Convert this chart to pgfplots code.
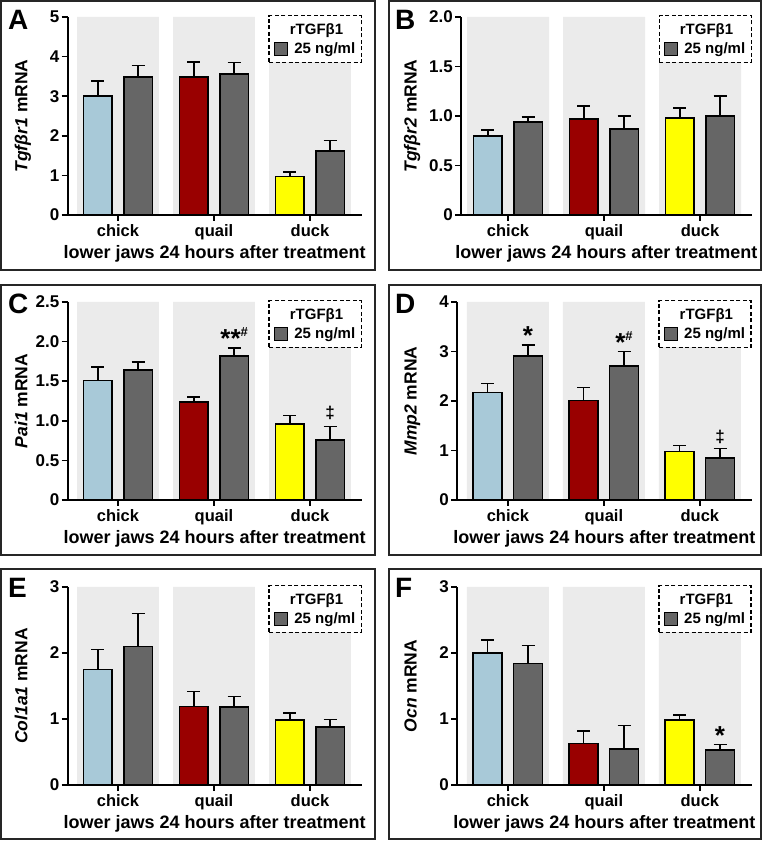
\documentclass[border=0pt]{standalone}
\usepackage{pgfplots}
\pgfplotsset{compat=1.18}
\usepackage{fontspec}
\setmainfont{Liberation Sans}

\definecolor{chickblue}{HTML}{A8C9D8}
\definecolor{quailred}{HTML}{990000}
\definecolor{duckyellow}{HTML}{FFFF00}
\definecolor{trtgrey}{HTML}{666666}
\definecolor{bandgrey}{HTML}{EBEBEB}

\newcommand{\fsz}[1]{\fontsize{#1}{#1}\selectfont\bfseries}

\pgfplotsset{
  panel/.style={
    x=96pt, ymin=0, xmax=2.54,
    axis lines*=left, axis on top,
    axis line style={line width=2pt, black},
    tick align=outside, major tick length=6pt,
    every tick/.style={black, line width=1.6pt},
    xtick={0,1,2}, xticklabels={chick,quail,duck},
    xticklabel style={font=\fsz{16.5}, inner sep=0pt, yshift=-3pt},
    yticklabel style={font=\fsz{17}, inner sep=0pt, xshift=-2pt},
    xlabel={lower jaws 24 hours after treatment},
    every axis x label/.style={at={(axis description cs:0.5,0)}, anchor=north,
      inner sep=0pt, yshift=-30pt, font=\fsz{18}},
    clip=false,
    legend style={at={(axis description cs:1,1)}, anchor=north east, yshift=2pt,
      draw=black, dash pattern=on 4pt off 2.5pt, line width=1.3pt, fill=white,
      font=\fsz{15}, inner xsep=5pt, inner ysep=6.5pt, row sep=5pt, column sep=5pt,
      nodes={inner sep=1pt}},
    legend cell align=left,
  },
  ylab/.style={every axis y label/.style={at={(axis description cs:0,0.5)},
      xshift=#1, rotate=90, anchor=base, inner sep=0pt, font=\fsz{17.5}}},
  band/.style={ybar, bar shift=0pt, bar width=0.854, fill=bandgrey, draw=none, forget plot},
  ctrl/.style={ybar, bar shift=0pt, bar width=0.30, fill=#1, draw=black, line width=1.7pt,
    forget plot,
    error bars/.cd, y dir=plus, y explicit,
    error bar style={line width=1.5pt, black},
    error mark options={rotate=90, mark size=6.5pt, line width=1.5pt, black}},
  trt/.style={ybar, bar shift=0pt, bar width=0.30, fill=trtgrey, draw=black, line width=1.7pt,
    legend image code/.code={\draw[solid, fill=trtgrey, draw=black, line width=1.2pt]
      (0pt,-6.5pt) rectangle (13pt,6.5pt);},
    error bars/.cd, y dir=plus, y explicit,
    error bar style={line width=1.5pt, black},
    error mark options={rotate=90, mark size=6.5pt, line width=1.5pt, black}},
}

\begin{document}
\begin{tikzpicture}
\useasboundingbox (0,0) rectangle (766pt,841pt);

% panel frames
\foreach \xa/\xb in {1/375, 389/761}{
  \foreach \ya/\yb in {571/840, 286/556, 2/272}{
    \draw[line width=1.5pt, black!85] (\xa pt,\ya pt) rectangle (\xb pt,\yb pt);
  }
}
\foreach \lx/\ly/\lt in {8/831/A, 395/831/B, 8/547/C, 395/547/D, 8/263/E, 395/263/F}{
  \node[anchor=north west, inner sep=0pt, font=\fsz{28}] at (\lx pt,\ly pt) {\lt};
}

% A
\begin{axis}[panel, at={(67.5pt,626pt)}, anchor=south west,
  xmin=-0.526, ymax=5, y=39.6pt, ytick={0,1,2,3,4,5}, yticklabels={0,1,2,3,4,5},
  ylab=-40pt, ylabel={\textit{Tgfβr1} mRNA}]
\addplot[band] coordinates {(0,5) (1,5) (2,5)};
\addplot[ctrl=chickblue] coordinates {(-0.21,3.00) +- (0,0.38)};
\addplot[ctrl=quailred] coordinates {(0.79,3.49) +- (0,0.37)};
\addplot[ctrl=duckyellow] coordinates {(1.79,0.97) +- (0,0.11)};
\addlegendimage{empty legend}\addlegendentry{\hspace*{-4.5pt}rTGFβ1}
\addplot[trt] coordinates {(0.21,3.48) +- (0,0.30) (1.21,3.56) +- (0,0.29) (2.21,1.61) +- (0,0.27)};
\addlegendentry{25 ng/ml}
\end{axis}

% B
\begin{axis}[panel, at={(461pt,626pt)}, anchor=south west,
  xmin=-0.49, ymax=2, y=99pt, ytick={0,0.5,1,1.5,2}, yticklabels={0,0.5,1.0,1.5,2.0},
  ylab=-44.5pt, ylabel={\textit{Tgfβr2} mRNA}]
\addplot[band] coordinates {(0,2) (1,2) (2,2)};
\addplot[ctrl=chickblue] coordinates {(-0.21,0.80) +- (0,0.06)};
\addplot[ctrl=quailred] coordinates {(0.79,0.97) +- (0,0.13)};
\addplot[ctrl=duckyellow] coordinates {(1.79,0.98) +- (0,0.10)};
\addlegendimage{empty legend}\addlegendentry{\hspace*{-4.5pt}rTGFβ1}
\addplot[trt] coordinates {(0.21,0.94) +- (0,0.05) (1.21,0.87) +- (0,0.13) (2.21,1.00) +- (0,0.20)};
\addlegendentry{25 ng/ml}
\end{axis}

% C
\begin{axis}[panel, at={(67.5pt,341pt)}, anchor=south west,
  xmin=-0.526, ymax=2.5, y=79.2pt, ytick={0,0.5,1,1.5,2,2.5}, yticklabels={0,0.5,1.0,1.5,2.0,2.5},
  ylab=-40pt, ylabel={\textit{Pai1} mRNA}]
\addplot[band] coordinates {(0,2.5) (1,2.5) (2,2.5)};
\addplot[ctrl=chickblue] coordinates {(-0.21,1.51) +- (0,0.17)};
\addplot[ctrl=quailred] coordinates {(0.79,1.24) +- (0,0.06)};
\addplot[ctrl=duckyellow] coordinates {(1.79,0.96) +- (0,0.11)};
\addlegendimage{empty legend}\addlegendentry{\hspace*{-4.5pt}rTGFβ1}
\addplot[trt] coordinates {(0.21,1.64) +- (0,0.10) (1.21,1.82) +- (0,0.10) (2.21,0.76) +- (0,0.17)};
\addlegendentry{25 ng/ml}
\node[anchor=base, inner sep=0pt, font=\fsz{26}] at (axis cs:1.21,1.93) {**\raisebox{11pt}{\fsz{13}\#}};
\node[anchor=south, inner sep=0pt, font=\fsz{17}, yshift=6pt] at (axis cs:2.21,0.93) {‡};
\end{axis}

% D
\begin{axis}[panel, at={(457pt,341pt)}, anchor=south west,
  xmin=-0.53, ymax=4, y=49.5pt, ytick={0,1,2,3,4}, yticklabels={0,1,2,3,4},
  ylab=-40.5pt, ylabel={\textit{Mmp2} mRNA}]
\addplot[band] coordinates {(0,4) (1,4) (2,4)};
\addplot[ctrl=chickblue] coordinates {(-0.21,2.17) +- (0,0.18)};
\addplot[ctrl=quailred] coordinates {(0.79,2.01) +- (0,0.26)};
\addplot[ctrl=duckyellow] coordinates {(1.79,0.98) +- (0,0.12)};
\addlegendimage{empty legend}\addlegendentry{\hspace*{-4.5pt}rTGFβ1}
\addplot[trt] coordinates {(0.21,2.91) +- (0,0.22) (1.21,2.71) +- (0,0.29) (2.21,0.85) +- (0,0.19)};
\addlegendentry{25 ng/ml}
\node[anchor=base, inner sep=0pt, font=\fsz{26}] at (axis cs:0.21,3.14) {*};
\node[anchor=base, inner sep=0pt, font=\fsz{26}] at (axis cs:1.21,3.01) {*\raisebox{11pt}{\fsz{13}\#}};
\node[anchor=south, inner sep=0pt, font=\fsz{17}, yshift=5pt] at (axis cs:2.21,1.04) {‡};
\end{axis}

% E
\begin{axis}[panel, at={(67.5pt,56pt)}, anchor=south west,
  xmin=-0.526, ymax=3, y=66pt, ytick={0,1,2,3}, yticklabels={0,1,2,3},
  ylab=-40pt, ylabel={\textit{Col1a1} mRNA}]
\addplot[band] coordinates {(0,3) (1,3) (2,3)};
\addplot[ctrl=chickblue] coordinates {(-0.21,1.75) +- (0,0.30)};
\addplot[ctrl=quailred] coordinates {(0.79,1.19) +- (0,0.23)};
\addplot[ctrl=duckyellow] coordinates {(1.79,0.98) +- (0,0.11)};
\addlegendimage{empty legend}\addlegendentry{\hspace*{-4.5pt}rTGFβ1}
\addplot[trt] coordinates {(0.21,2.10) +- (0,0.50) (1.21,1.18) +- (0,0.16) (2.21,0.88) +- (0,0.11)};
\addlegendentry{25 ng/ml}
\end{axis}

% F
\begin{axis}[panel, at={(457pt,56pt)}, anchor=south west,
  xmin=-0.53, ymax=3, y=66pt, ytick={0,1,2,3}, yticklabels={0,1,2,3},
  ylab=-40.5pt, ylabel={\textit{Ocn} mRNA}]
\addplot[band] coordinates {(0,3) (1,3) (2,3)};
\addplot[ctrl=chickblue] coordinates {(-0.21,2.00) +- (0,0.20)};
\addplot[ctrl=quailred] coordinates {(0.79,0.63) +- (0,0.19)};
\addplot[ctrl=duckyellow] coordinates {(1.79,0.98) +- (0,0.08)};
\addlegendimage{empty legend}\addlegendentry{\hspace*{-4.5pt}rTGFβ1}
\addplot[trt] coordinates {(0.21,1.84) +- (0,0.27) (1.21,0.55) +- (0,0.35) (2.21,0.53) +- (0,0.08)};
\addlegendentry{25 ng/ml}
\node[anchor=base, inner sep=0pt, font=\fsz{26}] at (axis cs:2.21,0.62) {*};
\end{axis}
\end{tikzpicture}
\end{document}
